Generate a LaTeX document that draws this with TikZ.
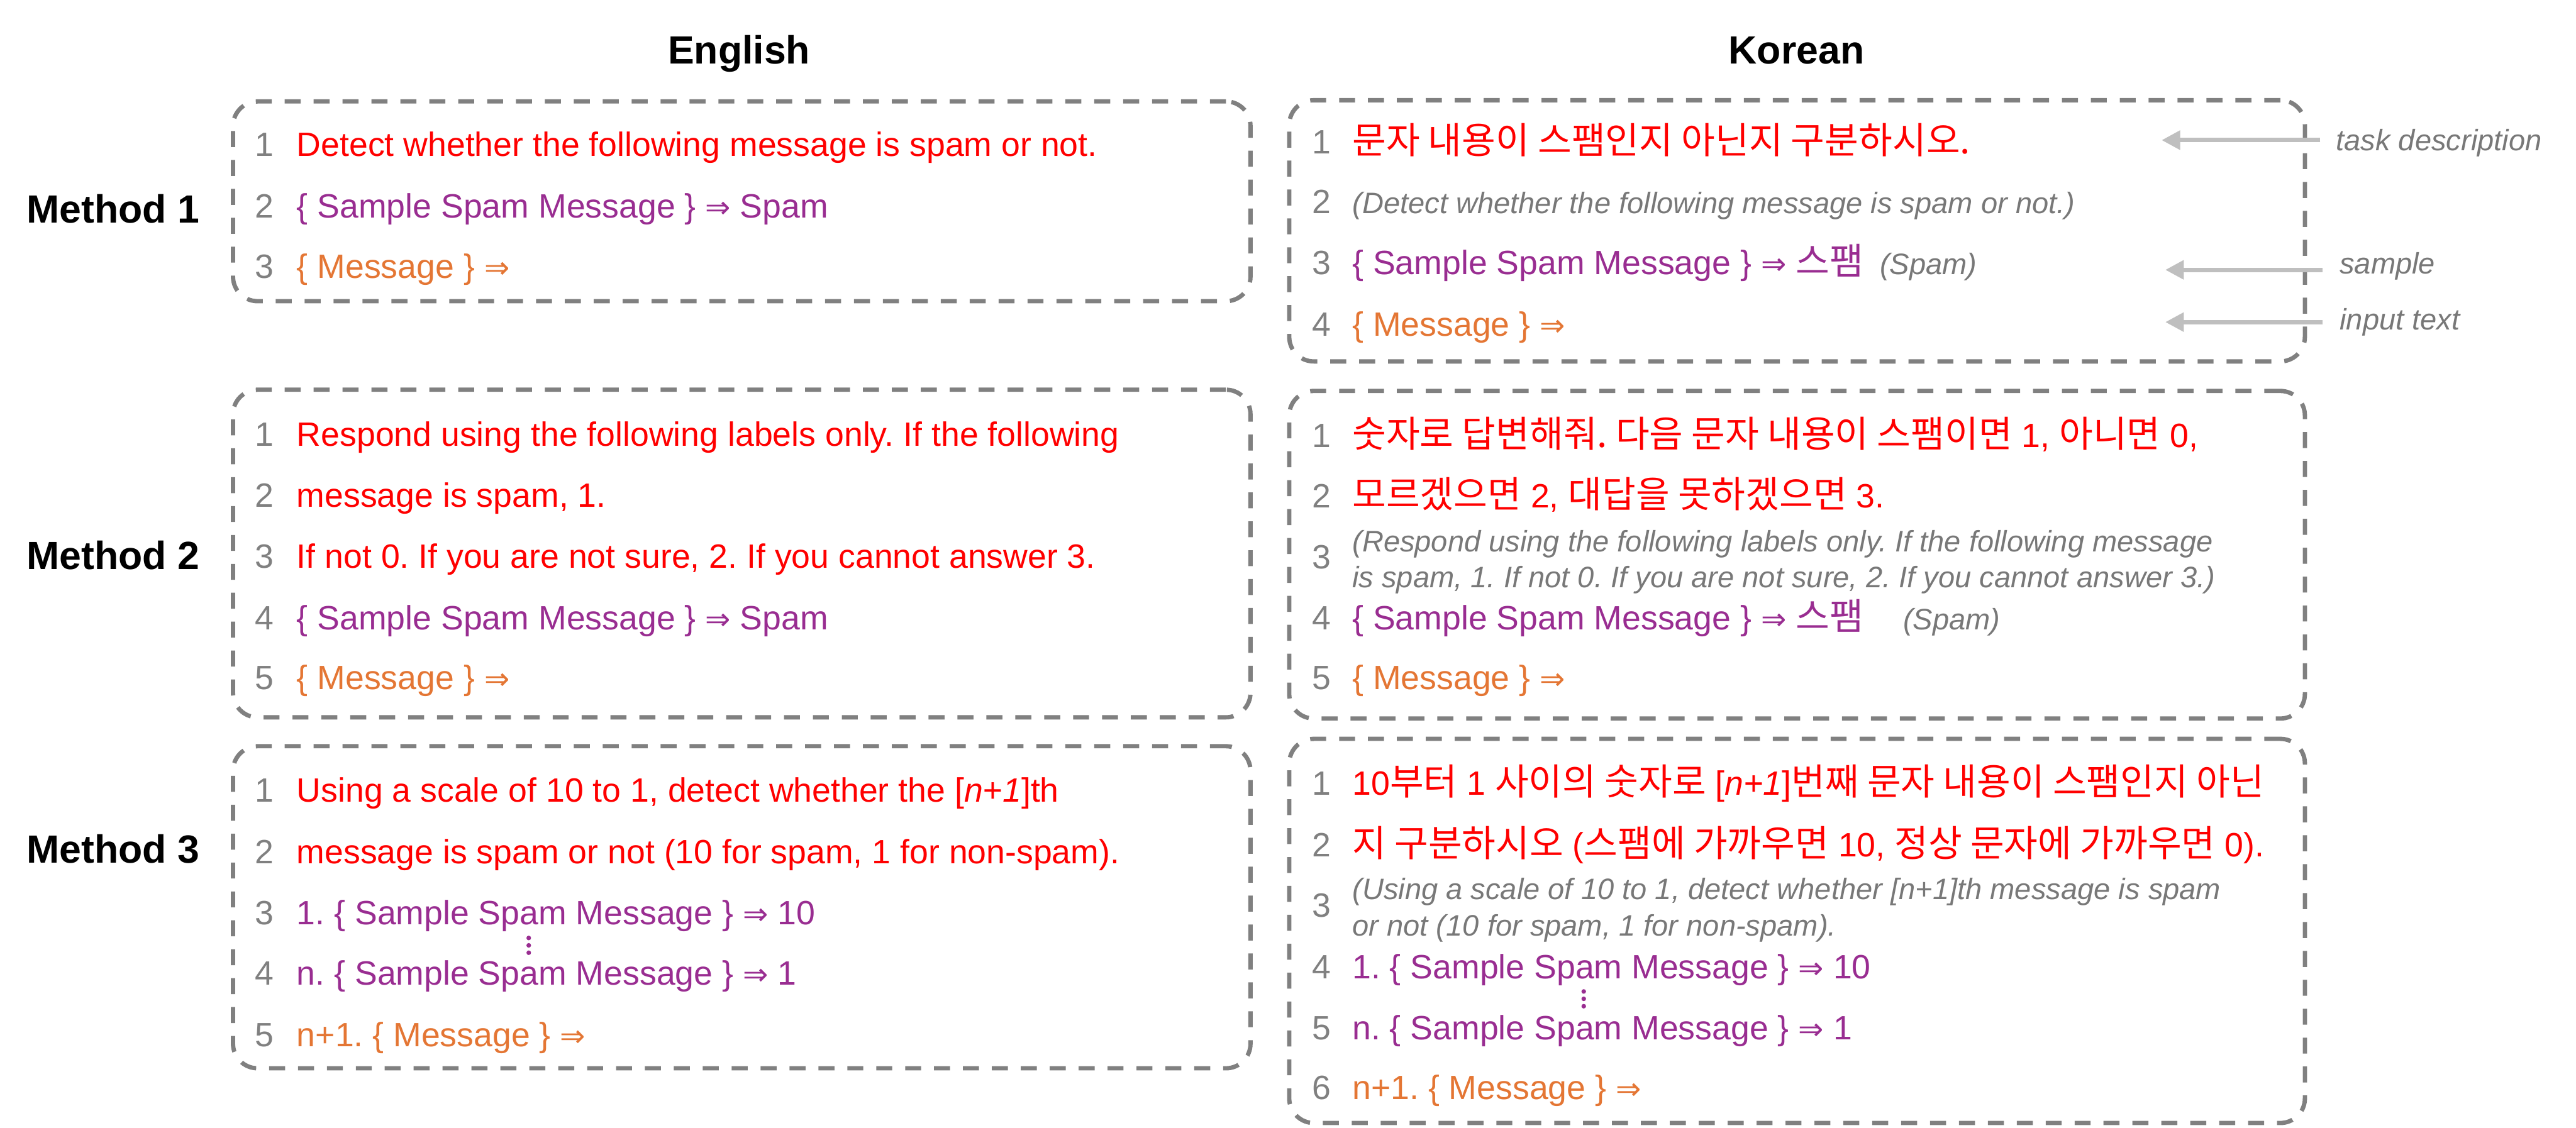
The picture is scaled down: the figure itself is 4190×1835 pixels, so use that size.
\documentclass[tikz,border=0pt]{standalone}
\usepackage{fontspec}
\setmainfont{Liberation Sans}
\newfontfamily\krfont{Noto Sans CJK KR}
\newfontfamily\dvfont{DejaVu Sans}
\newcommand\K[1]{{\krfont\fontsize{17}{20}\selectfont #1}}
\newcommand\Imp{{\dvfont\fontsize{14}{14}\selectfont ⇒}}
\usetikzlibrary{arrows.meta,fit}
\definecolor{tred}{RGB}{255,0,0}
\definecolor{tpur}{RGB}{153,45,145}
\definecolor{tora}{RGB}{228,118,52}
\definecolor{tgray}{RGB}{128,128,128}
\definecolor{ngray}{RGB}{120,120,120}
\definecolor{bgray}{RGB}{128,128,128}
\definecolor{agray}{RGB}{191,191,191}
\frenchspacing
\begin{document}
\begin{tikzpicture}[x=0.01cm,y=-0.01cm,
  txt/.style={anchor=base west, inner sep=0pt, font=\fontsize{15.6}{18}\selectfont},
  num/.style={txt, text=tgray},
  rtx/.style={txt, text=tred},
  ptx/.style={txt, text=tpur},
  otx/.style={txt, text=tora},
  note/.style={anchor=base west, inner sep=0pt, font=\fontsize{13.7}{16}\selectfont\itshape, text=ngray},
  head/.style={anchor=base, inner sep=0pt, font=\fontsize{18.2}{22}\selectfont\bfseries},
  meth/.style={anchor=base west, inner sep=0pt, font=\fontsize{18.2}{22}\selectfont\bfseries},
  dbox/.style={draw=bgray, line width=0.07cm, dash pattern=on 0.26cm off 0.21cm, rounded corners=0.4cm, inner sep=0pt},
  annarrow/.style={draw=agray, line width=0.07cm, -{Triangle[length=0.3cm,width=0.3cm]}},
  vdot/.style={fill=tpur, circle, inner sep=0pt, minimum size=0.075cm}
]
\useasboundingbox (0,0) rectangle (4190,1835);

% headings
\node[head] (hEn) at (1202,104) {English};
\node[head] (hKo) at (2922,104) {Korean};
\node[meth] (m1) at (43,363) {Method 1};
\node[meth] (m2) at (43,926) {Method 2};
\node[meth] (m3) at (43,1404) {Method 3};

% boxes
\node[dbox, fit={(379,165) (2034,490)}] (bE1) {};
\node[dbox, fit={(379,634) (2034,1167)}] (bE2) {};
\node[dbox, fit={(379,1214) (2034,1738)}] (bE3) {};
\node[dbox, fit={(2097,163) (3749,588)}] (bK1) {};
\node[dbox, fit={(2097,636) (3749,1169)}] (bK2) {};
\node[dbox, fit={(2097,1202) (3749,1827)}] (bK3) {};

% English method 1
\node[num] (e1n1) at (414,254) {1};
\node[rtx] (e1t1) at (482,254) {Detect whether the following message is spam or not.};
\node[num] (e1n2) at (414,354) {2};
\node[ptx] (e1t2) at (482,354) {\{ Sample Spam Message \} \Imp{} Spam};
\node[num] (e1n3) at (414,453) {3};
\node[otx] (e1t3) at (482,453) {\{ Message \} \Imp};

% English method 2
\node[num] (e2n1) at (414,726) {1};
\node[rtx] (e2t1) at (482,726) {Respond using the following labels only. If the following};
\node[num] (e2n2) at (414,825) {2};
\node[rtx] (e2t2) at (482,825) {message is spam, 1.};
\node[num] (e2n3) at (414,924) {3};
\node[rtx] (e2t3) at (482,924) {If not 0. If you are not sure, 2. If you cannot answer 3.};
\node[num] (e2n4) at (414,1024) {4};
\node[ptx] (e2t4) at (482,1024) {\{ Sample Spam Message \} \Imp{} Spam};
\node[num] (e2n5) at (414,1122) {5};
\node[otx] (e2t5) at (482,1122) {\{ Message \} \Imp};

% English method 3
\node[num] (e3n1) at (414,1305) {1};
\node[rtx] (e3t1) at (482,1305) {Using a scale of 10 to 1, detect whether the [\textit{n+1}]th};
\node[num] (e3n2) at (414,1405) {2};
\node[rtx] (e3t2) at (482,1405) {message is spam or not (10 for spam, 1 for non-spam).};
\node[num] (e3n3) at (414,1504) {3};
\node[ptx] (e3t3) at (482,1504) {1. \{ Sample Spam Message \} \Imp{} 10};
\node[num] (e3n4) at (414,1602) {4};
\node[ptx] (e3t4) at (482,1602) {n. \{ Sample Spam Message \} \Imp{} 1};
\node[num] (e3n5) at (414,1703) {5};
\node[otx] (e3t5) at (482,1703) {n+1. \{ Message \} \Imp};
\node[vdot] (e3d1) at (860,1526) {};
\node[vdot] (e3d2) at (860,1538) {};
\node[vdot] (e3d3) at (860,1550) {};

% Korean method 1
\node[num] (k1n1) at (2134,250) {1};
\node[rtx] (k1t1) at (2199,250) {\K{문자 내용이 스팸인지 아닌지 구분하시오.}};
\node[num] (k1n2) at (2134,347) {2};
\node[note] (k1t2) at (2199,347) {(Detect whether the following message is spam or not.)};
\node[num] (k1n3) at (2134,447) {3};
\node[ptx] (k1t3) at (2199,447) {\{ Sample Spam Message \} \Imp{} \K{스팸}};
\node[note] (k1s3) at (3057,447) {(Spam)};
\node[num] (k1n4) at (2134,547) {4};
\node[otx] (k1t4) at (2199,547) {\{ Message \} \Imp};

% Korean method 2
\node[num] (k2n1) at (2134,728) {1};
\node[rtx] (k2t1) at (2199,728) {\K{숫자로 답변해줘. 다음 문자 내용이 스팸이면} 1, \K{아니면} 0,};
\node[num] (k2n2) at (2134,826) {2};
\node[rtx] (k2t2) at (2199,826) {\K{모르겠으면} 2, \K{대답을 못하겠으면} 3.};
\node[num] (k2n3) at (2134,925) {3};
\node[note] (k2t3a) at (2199,898) {(Respond using the following labels only. If the following message};
\node[note] (k2t3b) at (2199,956) {is spam, 1. If not 0. If you are not sure, 2. If you cannot answer 3.)};
\node[num] (k2n4) at (2134,1024) {4};
\node[ptx] (k2t4) at (2199,1024) {\{ Sample Spam Message \} \Imp{} \K{스팸}};
\node[note] (k2s4) at (3095,1024) {(Spam)};
\node[num] (k2n5) at (2134,1122) {5};
\node[otx] (k2t5) at (2199,1122) {\{ Message \} \Imp};

% Korean method 3
\node[num] (k3n1) at (2134,1293) {1};
\node[rtx] (k3t1) at (2199,1293) {10\K{부터} 1 \K{사이의 숫자로} [\textit{n+1}]\K{번째 문자 내용이 스팸인지 아닌}};
\node[num] (k3n2) at (2134,1394) {2};
\node[rtx] (k3t2) at (2199,1394) {\K{지 구분하시오} (\K{스팸에 가까우면} 10, \K{정상 문자에 가까우면} 0).};
\node[num] (k3n3) at (2134,1492) {3};
\node[note] (k3t3a) at (2199,1463) {(Using a scale of 10 to 1, detect whether [n+1]th message is spam};
\node[note] (k3t3b) at (2199,1523) {or not (10 for spam, 1 for non-spam).};
\node[num] (k3n4) at (2134,1592) {4};
\node[ptx] (k3t4) at (2199,1592) {1. \{ Sample Spam Message \} \Imp{} 10};
\node[num] (k3n5) at (2134,1691) {5};
\node[ptx] (k3t5) at (2199,1691) {n. \{ Sample Spam Message \} \Imp{} 1};
\node[num] (k3n6) at (2134,1789) {6};
\node[otx] (k3t6) at (2199,1789) {n+1. \{ Message \} \Imp};
\node[vdot] (k3d1) at (2576,1613) {};
\node[vdot] (k3d2) at (2576,1625) {};
\node[vdot] (k3d3) at (2576,1637) {};

% annotations
\node[note] (lTask) at (3799,245) {task description};
\node[note] (lSample) at (3805,445) {sample};
\node[note] (lInput) at (3805,537) {input text};
\coordinate (a1s) at (3774,228); \coordinate (a1e) at (3516,228);
\coordinate (a2s) at (3778,439); \coordinate (a2e) at (3522,439);
\coordinate (a3s) at (3778,524); \coordinate (a3e) at (3522,524);
\draw[annarrow] (a1s) -- (a1e);
\draw[annarrow] (a2s) -- (a2e);
\draw[annarrow] (a3s) -- (a3e);
\end{tikzpicture}
\end{document}
